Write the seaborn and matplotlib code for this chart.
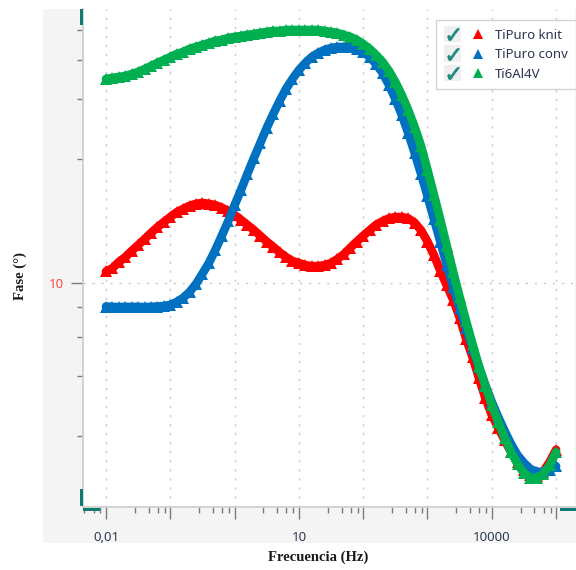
import matplotlib
matplotlib.use("Agg")
import matplotlib.pyplot as plt
import seaborn as sns
import pandas as pd
from matplotlib.patches import Rectangle
from matplotlib.lines import Line2D
from matplotlib.legend_handler import HandlerBase
from matplotlib.ticker import NullFormatter

# ---------------- data ----------------
freq = [0.01, 0.0126, 0.0158, 0.02, 0.0251, 0.0316, 0.0398, 0.0501, 0.0631, 0.0794,
        0.1, 0.126, 0.158, 0.2, 0.251, 0.316, 0.398, 0.501, 0.631, 0.794,
        1, 1.26, 1.58, 2, 2.51, 3.16, 3.98, 5.01, 6.31, 7.94,
        10, 12.6, 15.8, 20, 25.1, 31.6, 39.8, 50.1, 63.1, 79.4,
        100, 126, 158, 200, 251, 316, 398, 501, 631, 794,
        1000, 1259, 1585, 1995, 2512, 3162, 3981, 5012, 6310, 7943,
        10000, 12589, 15849, 19953, 25119, 31623, 39811, 50119, 63096, 79433, 100000]

tipuro_knit = [11.0, 11.3, 11.9, 12.4, 13.05, 13.7, 14.4, 15.15, 15.9, 16.6,
               17.3, 18.0, 18.5, 19.0, 19.3, 19.45, 19.3, 19.1, 18.7, 18.2,
               17.6, 16.9, 16.2, 15.5, 14.8, 14.1, 13.5, 12.9, 12.4, 12.0,
               11.8, 11.6, 11.5, 11.5, 11.6, 11.8, 12.2, 12.7, 13.4, 14.1,
               14.8, 15.5, 16.2, 16.7, 17.1, 17.3, 17.3, 17.1, 16.5, 15.5,
               14.1, 12.6, 11.05, 9.8, 8.7, 7.5, 6.3, 5.4, 4.54, 3.84,
               3.34, 3.0, 2.71, 2.45, 2.26, 2.11, 2.03, 2.01, 2.08, 2.26, 2.5]

tipuro_conv = [8.22, 8.2, 8.18, 8.2, 8.19, 8.2, 8.18, 8.2, 8.22, 8.26,
               8.33, 8.54, 8.83, 9.28, 9.92, 10.8, 11.8, 13.15, 14.8, 16.7,
               19.1, 21.7, 24.75, 28.3, 32.0, 36.3, 40.7, 45.4, 50.2, 54.5,
               58.7, 62.3, 65.4, 67.7, 69.4, 70.5, 71.1, 71.1, 71.1, 70.0,
               68.2, 65.4, 61.7, 57.3, 51.9, 46.2, 40.4, 34.8, 29.5, 24.75,
               20.6, 17.0, 14.1, 11.6, 9.67, 8.12, 6.88, 5.83, 4.97, 4.28,
               3.72, 3.28, 2.92, 2.62, 2.39, 2.24, 2.13, 2.08, 2.08, 2.11, 2.18]

ti6al4v = [54.5, 55.0, 55.4, 55.9, 56.8, 57.8, 59.2, 60.7, 62.3, 63.8,
           65.4, 67.1, 68.2, 70.0, 71.1, 72.3, 73.5, 74.8, 75.4, 76.6,
           77.3, 77.9, 78.6, 79.2, 79.9, 80.6, 81.2, 81.2, 81.9, 81.9,
           81.9, 81.9, 81.9, 81.9, 81.2, 80.6, 79.9, 78.6, 77.3, 75.4,
           72.9, 70.0, 66.6, 62.8, 58.3, 53.2, 47.7, 42.1, 36.6, 31.2,
           25.6, 20.8, 16.9, 13.6, 10.96, 8.9, 7.29, 6.02, 5.01, 4.25,
           3.63, 3.15, 2.76, 2.45, 2.22, 2.06, 1.98, 1.98, 2.04, 2.20, 2.45]

series_names = ["TiPuro knit", "TiPuro conv", "Ti6Al4V"]
series_colors = ["#ff0000", "#0070c0", "#00b050"]

x_major_ticks = [0.01, 0.1, 1, 10, 100, 1000, 10000, 100000]
x_major_labels = ["0,01", "", "", "10", "", "", "10000", ""]
y_major_ticks = [10]
y_major_labels = ["10"]
y_minor_ticks = [2.8, 4.6, 6.4, 8.2, 28, 46, 64, 82]

# ---------------- frame ----------------
sns.set_style("white")
plt.rcParams["font.family"] = ["Noto Sans", "DejaVu Sans"]

W, H = 576, 570
fig = plt.figure(figsize=(W / 100, H / 100), dpi=100)
fig.patch.set_facecolor("white")

def fr(x0, y0, x1, y1):
    return (x0 / W, 1 - y1 / H, (x1 - x0) / W, (y1 - y0) / H)

bx = fr(43, 9, 576, 543)
fig.patches.append(Rectangle(bx[:2], bx[2], bx[3], transform=fig.transFigure,
                             facecolor="#f4f4f4", edgecolor="none", zorder=-5))

ax = fig.add_axes(fr(83, 9, 575, 507))
ax.set_facecolor("white")
ax.set_zorder(1)

df = pd.concat([
    pd.DataFrame({"freq": freq, "phase": vals, "series": name})
    for name, vals in zip(series_names, [tipuro_knit, tipuro_conv, ti6al4v])
], ignore_index=True)

sns.lineplot(data=df, x="freq", y="phase", hue="series", hue_order=series_names,
             palette=dict(zip(series_names, series_colors)), estimator=None,
             sort=False, marker="^", markersize=8, markeredgewidth=0,
             linewidth=6.2, legend=False, ax=ax)

ax.set_xscale("log")
ax.set_yscale("log")
ax.set_xlim(0.004388, 1.968e5)
ax.set_ylim(1.553, 97.5)

ax.set_xticks(x_major_ticks, labels=x_major_labels)
x_minor = []
for d in [0.001, 0.01, 0.1, 1, 10, 100, 1000, 10000]:
    for m in [2.8, 4.6, 6.4, 8.2]:
        if 0.004388 < m * d < 1.968e5:
            x_minor.append(m * d)
ax.set_xticks(x_minor, minor=True)
ax.xaxis.set_minor_formatter(NullFormatter())
ax.set_yticks(y_major_ticks, labels=y_major_labels)
ax.set_yticks(y_minor_ticks, minor=True)
ax.yaxis.set_minor_formatter(NullFormatter())

ax.tick_params(which="both", bottom=True, left=True, top=False, right=False)
ax.tick_params(axis="x", which="major", direction="out", length=8.6, width=1,
               color="#7a7a7a", labelsize=9.5, labelcolor="#2e3a56", pad=8.5)
ax.tick_params(axis="x", which="minor", direction="out", length=4.0, width=1,
               color="#7a7a7a")
ax.tick_params(axis="y", which="major", direction="out", length=8.6, width=1,
               color="#7a7a7a", labelsize=9.5, labelcolor="#ff4545", pad=5.5)
ax.tick_params(axis="y", which="minor", direction="out", length=4.3, width=1,
               color="#7a7a7a")

ax.grid(True, which="major", axis="both", color="#c8c8c8",
        linestyle=(0, (1.5, 5)), linewidth=1)
ax.set_axisbelow(True)
for s in ["top", "right"]:
    ax.spines[s].set_visible(False)
for s in ["left", "bottom"]:
    ax.spines[s].set_color("#cfcfcf")
    ax.spines[s].set_linewidth(1.3)

ax.set_xlabel("")
ax.set_ylabel("")

# teal axis handles
teal = "#0e7c72"
for (x0, y0, x1, y1) in [(79.5, 9, 82.5, 25), (79.5, 489, 82.5, 506),
                         (83, 508, 100, 511), (560, 508, 576, 511)]:
    r = fr(x0, y0, x1, y1)
    fig.patches.append(Rectangle(r[:2], r[2], r[3], transform=fig.transFigure,
                                 facecolor=teal, edgecolor="none", zorder=5))

fig.text(20 / W, 1 - 276 / H, "Fase (°)", rotation=90, ha="center", va="center",
         family="Liberation Serif", weight="bold", size=10.5, color="#1a1a1a")
fig.text(318 / W, 1 - 557 / H, "Frecuencia (Hz)", ha="center", va="center",
         family="Liberation Serif", weight="bold", size=10.5, color="#1a1a1a")

# legend with check boxes
class CheckTri(HandlerBase):
    def create_artists(self, legend, orig_handle, xdescent, ydescent, width,
                       height, fontsize, trans):
        cy = height / 2 - ydescent
        x0 = -xdescent
        sq = Rectangle((x0, cy - 6), 12, 12, facecolor="#efefef",
                       edgecolor="none", transform=trans)
        ck = Line2D([x0 + 6], [cy], marker=r"$✓$", markersize=8.5,
                    color="#1f8a7e", markeredgewidth=0.6, linestyle="none",
                    transform=trans)
        tri = Line2D([x0 + 24.5], [cy], marker="^", markersize=7,
                     color=orig_handle.get_color(), markeredgewidth=0,
                     linestyle="none", transform=trans)
        return [sq, ck, tri]

handles = [Line2D([], [], color=c) for c in series_colors]
leg = ax.legend(handles, series_names, loc="upper right",
                bbox_to_anchor=(1.002, 0.978), borderaxespad=0, fontsize=9.5,
                handlelength=3.05, handletextpad=0.75, labelspacing=0.5,
                borderpad=0.65, frameon=True, fancybox=False, framealpha=1,
                edgecolor="#d4d4d4", labelcolor="#2a3550",
                handler_map={h: CheckTri() for h in handles})
leg.get_frame().set_linewidth(1)

fig.savefig("out.png", dpi=100, facecolor="white")
